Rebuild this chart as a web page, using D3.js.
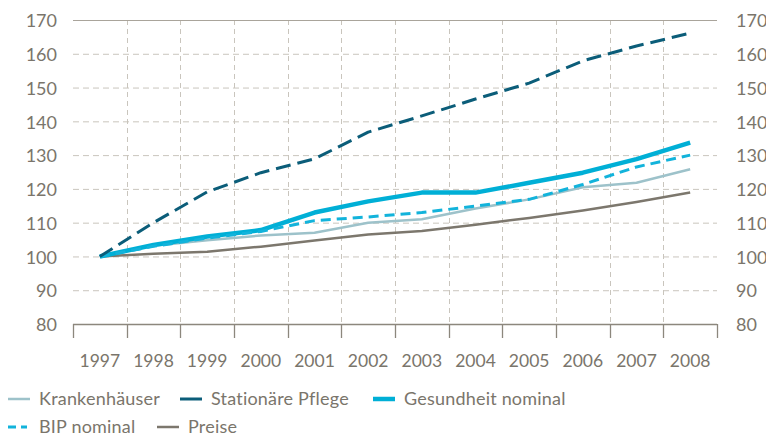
<!DOCTYPE html>
<html>
<head>
<meta charset="utf-8">
<script src="https://cdn.jsdelivr.net/npm/d3@7"></script>
<style>
  html, body { margin: 0; padding: 0; background: #fff; }
  text { font-family: Lato, "Open Sans", sans-serif; fill: #7a756b; }
</style>
</head>
<body>
<div id="chart"></div>
<script>
// Jahre und Indexwerte (1997 = 100)
const jahre = ["1997", "1998", "1999", "2000", "2001", "2002", "2003", "2004", "2005", "2006", "2007", "2008"];
const krankenhaeuser = [100, 103.2, 104.8, 106.2, 107.0, 110.0, 111.0, 114.2, 116.9, 120.5, 121.8, 125.8];
const stationaerePflege = [100, 110.0, 119.1, 124.8, 128.9, 136.8, 141.6, 146.6, 151.3, 157.9, 162.3, 166.1];
const gesundheitNominal = [100, 103.4, 105.9, 107.8, 113.0, 116.3, 118.9, 118.9, 121.8, 124.8, 128.8, 133.7];
const bipNominal = [100, 103.0, 105.4, 107.4, 110.6, 111.7, 113.0, 114.9, 116.9, 121.3, 126.5, 130.0];
const preise = [100, 100.8, 101.4, 102.9, 104.7, 106.5, 107.5, 109.4, 111.4, 113.6, 116.1, 118.9];
const yTicks = [80, 90, 100, 110, 120, 130, 140, 150, 160, 170];

const width = 766, height = 436;
const margin = { top: 20, right: 49, bottom: 112, left: 73 };

const svg = d3.select("#chart").append("svg")
    .attr("width", width)
    .attr("height", height);

const x = d3.scaleBand()
    .domain(jahre)
    .range([margin.left, width - margin.right]);

const y = d3.scaleLinear()
    .domain([80, 170])
    .range([height - margin.bottom, margin.top]);

// Gitterlinien
const grid = svg.append("g");
grid.selectAll("line.h")
    .data(yTicks.filter(d => d > 80 && d < 170))
    .join("line")
    .attr("x1", margin.left).attr("x2", width - margin.right)
    .attr("y1", d => y(d) + 0.5).attr("y2", d => y(d) + 0.5)
    .attr("stroke", "#c9c5bd")
    .attr("stroke-dasharray", "6,4");

grid.selectAll("line.v")
    .data(jahre.slice(1))
    .join("line")
    .attr("x1", d => Math.round(x(d)) + 0.5).attr("x2", d => Math.round(x(d)) + 0.5)
    .attr("y1", y(170)).attr("y2", y(80))
    .attr("stroke", "#c9c5bd")
    .attr("stroke-dasharray", "5,4");

// obere Linie
svg.append("line")
    .attr("x1", margin.left).attr("x2", width - margin.right)
    .attr("y1", y(170) + 0.5).attr("y2", y(170) + 0.5)
    .attr("stroke", "#a9a49b")
    .attr("stroke-width", 1.2);

// x-Achse mit Teilstrichen an den Bandgrenzen
const xAxis = svg.append("g");
xAxis.append("line")
    .attr("x1", margin.left).attr("x2", width - margin.right)
    .attr("y1", y(80) + 0.5).attr("y2", y(80) + 0.5)
    .attr("stroke", "#8c877d")
    .attr("stroke-width", 1.3);
xAxis.selectAll("line.tick")
    .data(jahre.concat(["end"]))
    .join("line")
    .attr("x1", (d, i) => Math.round(margin.left + i * x.step()) + 0.5)
    .attr("x2", (d, i) => Math.round(margin.left + i * x.step()) + 0.5)
    .attr("y1", y(80)).attr("y2", y(80) + 14)
    .attr("stroke", "#8c877d")
    .attr("stroke-width", 1.3);
xAxis.selectAll("text")
    .data(jahre)
    .join("text")
    .attr("x", d => x(d) + x.bandwidth() / 2)
    .attr("y", y(80) + 43)
    .attr("text-anchor", "middle")
    .style("font-size", "17.5px")
    .text(d => d);

// y-Beschriftung links und rechts
svg.append("g").selectAll("text")
    .data(yTicks)
    .join("text")
    .attr("x", 57)
    .attr("y", d => y(d))
    .attr("dy", "0.4em")
    .attr("text-anchor", "end")
    .style("font-size", "18px")
    .text(d => d);

svg.append("g").selectAll("text")
    .data(yTicks)
    .join("text")
    .attr("x", 736)
    .attr("y", d => y(d))
    .attr("dy", "0.4em")
    .attr("text-anchor", "start")
    .style("font-size", "18px")
    .text(d => d);

// Reihen
const reihen = [
    { name: "Krankenhäuser", werte: krankenhaeuser, farbe: "#9dc2ca", breite: 2.5, dash: null },
    { name: "Preise", werte: preise, farbe: "#7c776d", breite: 2.5, dash: null },
    { name: "Gesundheit nominal", werte: gesundheitNominal, farbe: "#00afd6", breite: 4.5, dash: null },
    { name: "BIP nominal", werte: bipNominal, farbe: "#12b3db", breite: 3, dash: "10,6" },
    { name: "Stationäre Pflege", werte: stationaerePflege, farbe: "#0b5d79", breite: 3, dash: "15,7" }
];

const line = d3.line()
    .x((d, i) => x(jahre[i]) + x.bandwidth() / 2)
    .y(d => y(d));

svg.append("g").selectAll("path")
    .data(reihen)
    .join("path")
    .attr("d", d => line(d.werte))
    .attr("fill", "none")
    .attr("stroke", d => d.farbe)
    .attr("stroke-width", d => d.breite)
    .attr("stroke-linejoin", "round")
    .attr("stroke-dasharray", d => d.dash);

// Legende
const legende = [
    { name: "Krankenhäuser", x: 8, y: 399, reihe: reihen[0], dash: null, len: 22 },
    { name: "Stationäre Pflege", x: 180, y: 399, reihe: reihen[4], dash: null, len: 22 },
    { name: "Gesundheit nominal", x: 373, y: 399, reihe: reihen[2], dash: null, len: 22 },
    { name: "BIP nominal", x: 8, y: 427, reihe: reihen[3], dash: "8,5", len: 19 },
    { name: "Preise", x: 157, y: 427, reihe: reihen[1], dash: null, len: 22 }
];

const lg = svg.append("g").selectAll("g")
    .data(legende)
    .join("g")
    .attr("transform", d => `translate(${d.x},${d.y})`);

lg.append("line")
    .attr("x1", 0).attr("x2", d => d.len)
    .attr("y1", 0).attr("y2", 0)
    .attr("stroke", d => d.reihe.farbe)
    .attr("stroke-width", d => d.reihe.breite)
    .attr("stroke-dasharray", d => d.dash);

lg.append("text")
    .attr("x", 31)
    .attr("y", 5.5)
    .style("font-size", "18px")
    .style("letter-spacing", "0.2px")
    .text(d => d.name);
</script>
</body>
</html>
